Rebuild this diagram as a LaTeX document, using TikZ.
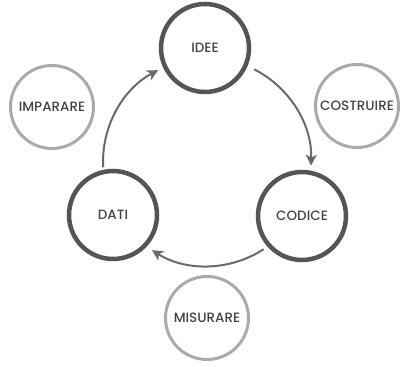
\documentclass[tikz,border=0pt]{standalone}
\usepackage{fontspec}
\IfFontExistsTF{Poppins Medium}{\setmainfont{Poppins Medium}}{\setmainfont{Poppins}}
\usetikzlibrary{arrows.meta}
\definecolor{darkring}{HTML}{555555}
\definecolor{lightring}{HTML}{AAAAAA}
\definecolor{arrowgray}{HTML}{6A6A6A}
\definecolor{textgray}{HTML}{444444}
\tikzset{
  mainnode/.style={circle, draw=darkring, line width=4.5pt, minimum size=88pt, inner sep=0pt, text=textgray, font=\fontsize{13.5}{15}\selectfont},
  sidenode/.style={circle, draw=lightring, line width=3pt, minimum size=83pt, inner sep=0pt, text=textgray, font=\fontsize{13.5}{15}\selectfont},
  cyclearrow/.style={draw=arrowgray, line width=2pt, -{Stealth[length=11pt,width=11pt,inset=3pt]}}
}
\begin{document}
\begin{tikzpicture}[x=1pt,y=1pt]
\useasboundingbox (0,0) rectangle (402,367);
\node[mainnode] (idee) at (205,319) {IDEE};
\node[mainnode] (codice) at (302,151) {CODICE};
\node[mainnode] (dati) at (113,152) {DATI};
\node[sidenode] (imparare) at (52,260) {IMPARARE};
\node[sidenode] (costruire) at (357,261) {COSTRUIRE};
\node[sidenode] (misurare) at (207,49) {MISURARE};
\coordinate (o) at (207,205);
\draw[cyclearrow] (o) ++(63:104) arc[start angle=63, end angle=-2, radius=104];
\draw[cyclearrow] (o) ++(-57:104) arc[start angle=-57, end angle=-122, radius=104];
\draw[cyclearrow] (o) ++(183:104) arc[start angle=183, end angle=118, radius=104];
\end{tikzpicture}
\end{document}
